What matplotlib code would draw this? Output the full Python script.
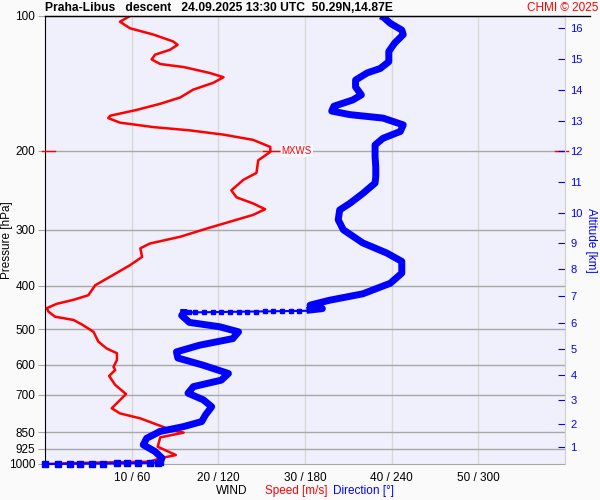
import numpy as np
import matplotlib.pyplot as plt
from matplotlib.ticker import FixedLocator, NullLocator
import matplotlib.lines as mlines

plt.rcParams['font.family'] = ['Liberation Sans', 'DejaVu Sans']

# wind speed profile [m/s] vs pressure [hPa]
spd_p = [100, 103, 106.5, 110, 114, 116, 119, 122, 125, 128, 130, 134, 137, 141, 146, 152,
         157, 162, 167, 169, 173, 177, 180, 184, 189, 196, 201, 210, 224, 232, 245, 254,
         262, 270, 278, 288, 298, 311, 322, 330, 345, 360, 382, 399, 420, 430, 439, 449,
         457, 469, 477, 490, 507, 533, 552, 566, 586, 607, 617, 636, 666, 698, 720, 751,
         771, 791, 811, 837, 851, 872, 915, 955, 971, 988, 995, 1000]
spd = [9.8, 8.65, 9.8, 12.5, 14.8, 15.3, 14.4, 12.7, 12.3, 13.3, 16.0, 19.0, 20.6, 19.4, 17.1, 15.6,
       13.3, 10.6, 7.5, 7.3, 8.65, 12.5, 16.7, 20.6, 24.0, 26.0, 26.0, 24.6, 24.4, 22.9, 21.5, 22.1,
       24.0, 25.4, 24.0, 21.3, 18.7, 15.6, 12.1, 11.0, 11.2, 9.8, 7.5, 5.8, 5.0, 3.3, 1.35, 0.2,
       0.4, 1.15, 3.3, 4.4, 5.6, 6.15, 7.1, 8.3, 8.3, 7.9, 8.1, 7.4, 8.1, 9.35, 8.65, 7.7,
       8.65, 11.0, 12.5, 14.4, 16.0, 13.3, 13.0, 15.1, 13.3, 12.1, 3.3, 0.2]

# wind direction [deg] vs pressure [hPa]
dir_p = [100, 100.4, 103.8, 107.5, 110, 115, 120, 126.5, 131, 134, 139, 144, 150, 154, 159, 163,
         166, 169, 175, 181, 187.5, 194, 206, 217, 228, 236, 249, 262, 271, 285, 300, 321,
         338, 353, 375, 395, 417, 431, 442, 445, 450, 454]
dir_deg = [232, 234, 239, 247, 248, 242, 238, 238, 232, 223, 215, 215, 219, 213, 200, 198.5,
           211, 234, 248, 246, 234, 228.5, 228.5, 229, 229, 228.5, 220, 211, 204, 203, 206.5, 220,
           236.5, 247, 247, 239, 220, 197, 183.5, 185.5, 192, 181]

# fast turning near 455 hPa (sparse samples)
jump_p = [455, 455.5, 456, 456, 456.5, 457, 457, 457, 457.5, 457.5, 458, 458, 458, 458.5, 459, 459]
jump_deg = [176, 170, 164, 158, 152, 146, 140, 134, 128, 122, 116, 110, 104, 100, 97, 96]

dir_p2 = [459, 460, 466, 483, 494, 507, 525, 543, 562, 580, 602, 628, 650, 672, 695, 719,
          745, 778, 804, 825, 846, 876, 906, 937, 970, 991]
dir_deg2 = [96, 96, 94.6, 100, 121, 134, 130, 107, 91, 92, 109.6, 127, 122, 102.7, 99, 109.6,
            115.4, 111, 108.5, 96, 79.6, 70.4, 68, 76, 81, 79.6]

# sparse samples near the ground
sfc_p = [991, 993, 994, 995, 996, 997, 997.5, 998, 998.5, 999, 1000, 1000]
sfc_deg = [79.6, 78.3, 72.7, 64.4, 56.8, 49.8, 40, 32.5, 24.2, 17.3, 9, 0]

p_ticks = [100, 200, 300, 400, 500, 600, 700, 850, 925, 1000]
p_grid = [200, 300, 400, 500, 600, 700, 850, 925]
spd_ticks = [10, 20, 30, 40, 50]
spd_labels = ['10 / 60', '20 / 120', '30 / 180', '40 / 240', '50 / 300']
km_labels = list(range(1, 17))
km_p = [916, 814, 719.5, 632.8, 553.8, 484.5, 421.7, 367.1, 321.1, 275.3, 234.7, 200.2,
        171.5, 146.3, 124.7, 106.4]
mxws_p = 200
mxws_spd = 26.1

fig = plt.figure(figsize=(6, 5), dpi=100, facecolor='#fafafa')
ax = fig.add_axes([45/600, 36/500, 520/600, 448/500])
ax.set_facecolor('#f0f0fc')
ax.set_yscale('log')
ax.set_ylim(1000, 100)
ax.set_xlim(0, 60)

for p in p_grid:
    ax.axhline(p, color='#a8a8a8', lw=1, zorder=1)
for s in spd_ticks:
    ax.axvline(s, color='#d8d8d8', lw=1, zorder=0.5)

ax.plot(spd, spd_p, color='red', lw=1.8, zorder=3, solid_joinstyle='round')

ax.plot(np.array(dir_deg) / 6, dir_p, color='blue', lw=5, zorder=4,
        solid_capstyle='butt', solid_joinstyle='round')
ax.plot(np.array(jump_deg) / 6, jump_p, color='blue', lw=2, ls='none', marker='s',
        ms=3.5, zorder=4)
ax.plot([30.2, 16.2], [455, 459], color='blue', lw=1.5, zorder=4)
ax.plot(np.array(dir_deg2) / 6, dir_p2, color='blue', lw=5, zorder=4, solid_joinstyle='round')
ax.plot(np.array(sfc_deg) / 6, sfc_p, color='blue', lw=1.5, marker='s', ms=4, zorder=4,
        clip_on=False)

# max wind marker
ax.plot([mxws_spd - 0.9, mxws_spd + 0.9], [mxws_p, mxws_p], color='red', lw=1, zorder=5)
ax.text(mxws_spd + 1.2, mxws_p, 'MXWS', color='red', fontsize=7, va='center', ha='left',
        zorder=5, bbox=dict(facecolor='#f8f8ff', edgecolor='none', pad=0.5))
tr = ax.get_yaxis_transform()
ax.plot([-0.005, 0.02], [mxws_p, mxws_p], color='red', lw=1, transform=tr, clip_on=False, zorder=5)
ax.plot([0.98, 1.005], [mxws_p, mxws_p], color='red', lw=1, transform=tr, clip_on=False, zorder=5)

ax.yaxis.set_major_locator(FixedLocator(p_ticks))
ax.yaxis.set_minor_locator(NullLocator())
ax.set_yticklabels([str(p) for p in p_ticks])
ax.tick_params(axis='y', length=5, color='#a8a8a8', labelsize=8.5, pad=2)
ax.set_xticks(spd_ticks)
ax.set_xticklabels(spd_labels)
ax.tick_params(axis='x', length=0, labelsize=8.5, pad=6)
ax.set_ylabel('Pressure [hPa]', fontsize=8.5)
ax.yaxis.set_label_coords(-0.062, 0.5)

ax.spines['left'].set_color('black')
ax.spines['top'].set_color('black')
ax.spines['bottom'].set_color('#a8a8a8')
ax.spines['right'].set_color('#d0d0d0')

ax2 = ax.twinx()
ax2.set_yscale('log')
ax2.set_ylim(1000, 100)
ax2.yaxis.set_major_locator(FixedLocator(km_p))
ax2.yaxis.set_minor_locator(NullLocator())
ax2.set_yticklabels([str(k) for k in km_labels])
ax2.tick_params(axis='y', direction='in', length=5, color='blue', labelcolor='blue',
                labelsize=8, pad=4)
ax2.spines['right'].set_color('#d0d0d0')
ax2.spines['top'].set_visible(False)
ax2.spines['left'].set_visible(False)
ax2.spines['bottom'].set_visible(False)
ax2.set_ylabel('Altitude [km]', color='blue', fontsize=8.5, rotation=270, labelpad=10)

fig.add_artist(mlines.Line2D([45/600, 590/600], [484/500, 484/500], color='black', lw=1))

fig.text(45/600, 492/500, 'Praha-Libus   descent   24.09.2025 13:30 UTC  50.29N,14.87E',
         fontsize=8.7, fontweight='bold', va='center', ha='left')
fig.text(598/600, 492/500, 'CHMI © 2025', fontsize=8.5, color='red', va='center', ha='right')

fig.text(247/600, 9/500, 'WIND', fontsize=8.5, color='black', ha='right', va='center')
fig.text(265/600, 9/500, 'Speed [m/s]', fontsize=8.5, color='red', ha='left', va='center')
fig.text(333/600, 9/500, 'Direction [°]', fontsize=8.5, color='blue', ha='left', va='center')

fig.savefig('out.png', dpi=100, facecolor=fig.get_facecolor())
